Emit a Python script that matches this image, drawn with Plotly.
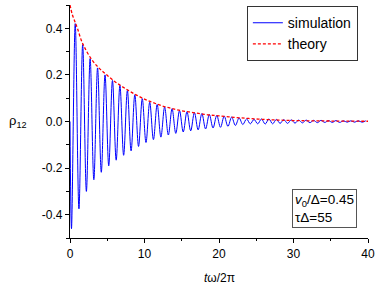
import numpy as np
import plotly.graph_objects as go

# --- data ---
# simulation: value at t=0, then successive extrema (every half period)
sim_start_t = 0.0
sim_start_v = 0.0
sim_first_ext_t = 0.2
sim_half_period = 0.5
sim_extrema = [
    -0.46, 0.42, -0.375, 0.33, -0.30, 0.27, -0.25, 0.23, -0.218, 0.20,
    -0.19, 0.176, -0.166, 0.155, -0.145, 0.133, -0.126, 0.115, -0.107, 0.098,
    -0.090, 0.083, -0.078, 0.073, -0.067, 0.062, -0.058, 0.055, -0.051, 0.047,
    -0.045, 0.042, -0.040, 0.038, -0.036, 0.034, -0.032, 0.030, -0.028, 0.026,
    -0.025, 0.023, -0.021, 0.019, -0.017, 0.015, -0.013, 0.011, -0.010, 0.009,
    -0.010, 0.011, -0.011, 0.011, -0.010, 0.009, -0.008, 0.008, -0.008, 0.007,
    -0.007, 0.006, -0.006, 0.006, -0.005, 0.005, -0.005, 0.005, -0.004, 0.004,
    -0.004, 0.004, -0.004, 0.003, -0.003, 0.003, -0.003, 0.003, -0.003, 0.003,
]

theory_t = [0, 0.3, 0.7, 1, 1.5, 2, 3, 4, 5, 6, 7, 8, 9, 10, 11, 12, 13, 14, 15,
            16, 17, 18, 19, 20, 22, 24, 26, 28, 30, 32, 35, 40]
theory_v = [0.5, 0.46, 0.425, 0.40, 0.35, 0.315, 0.262, 0.226, 0.198, 0.172,
            0.150, 0.130, 0.112, 0.096, 0.083, 0.071, 0.061, 0.053, 0.046,
            0.041, 0.036, 0.031, 0.027, 0.024, 0.018, 0.013, 0.009, 0.006,
            0.004, 0.003, 0.002, 0.001]

x_ticks = [0, 10, 20, 30, 40]
x_ticktext = ["0", "10", "20", "30", "40"]
y_ticks = [-0.4, -0.2, 0.0, 0.2, 0.4]
y_ticktext = ["-0.4", "-0.2", "0.0", "0.2", "0.4"]

sim_t = [sim_start_t] + [sim_first_ext_t + sim_half_period * k for k in range(len(sim_extrema))]
sim_v = [sim_start_v] + sim_extrema

FONT = "Arial, Liberation Sans, sans-serif"

fig = go.Figure()
fig.add_trace(go.Scatter(
    x=sim_t, y=sim_v, mode="lines", name="simulation",
    line=dict(color="#0000ff", width=1, shape="spline", smoothing=1.0),
))
fig.add_trace(go.Scatter(
    x=theory_t, y=theory_v, mode="lines", name="theory",
    line=dict(color="#ff0000", width=1.3, dash="3px,2px", shape="spline"),
))

axis_common = dict(showline=True, linecolor="black", linewidth=1.2, showgrid=False,
                   zeroline=False, tickcolor="black", tickfont=dict(family=FONT, size=12, color="black"))

fig.update_layout(
    width=380, height=300,
    margin=dict(l=70, r=12, t=5, b=62, autoexpand=False),
    paper_bgcolor="white", plot_bgcolor="white",
    font=dict(family=FONT, size=12, color="black"),
    xaxis=dict(range=[0, 40], tickvals=x_ticks, ticktext=x_ticktext, ticks="outside",
               ticklen=4, tickwidth=1,
               minor=dict(dtick=5, tick0=0, ticks="outside", ticklen=2, tickcolor="black"),
               **axis_common),
    yaxis=dict(range=[-0.5, 0.5], tickvals=y_ticks, ticktext=y_ticktext, ticks="outside",
               ticklen=4, tickwidth=1,
               minor=dict(dtick=0.1, tick0=0, ticks="outside", ticklen=3, tickcolor="black"),
               **axis_common),
    xaxis2=dict(range=[0, 40], overlaying="x", side="top", anchor="y", tickvals=x_ticks,
                showticklabels=False, ticks="inside", ticklen=4,
                minor=dict(dtick=5, tick0=0, ticks="inside", ticklen=3, tickcolor="black"),
                **axis_common),
    yaxis2=dict(range=[-0.5, 0.5], overlaying="y", side="right", anchor="x", tickvals=y_ticks,
                showticklabels=False, ticks="inside", ticklen=4,
                minor=dict(dtick=0.1, tick0=0, ticks="inside", ticklen=4, tickcolor="black"),
                **axis_common),
    showlegend=True,
    legend=dict(x=0.966, y=0.995, xanchor="right", yanchor="top",
                bgcolor="white", bordercolor="#333333", borderwidth=1,
                font=dict(family=FONT, size=14, color="black"),
                tracegroupgap=0, itemwidth=30),
    annotations=[
        dict(text="ρ<sub>12</sub>", xref="paper", yref="y", x=-0.175, y=0.0,
             xanchor="center", yanchor="middle", showarrow=False,
             font=dict(family=FONT, size=13)),
        dict(text="<i>t</i>ω/2π", xref="x", yref="paper", x=20, y=-0.17,
             xanchor="center", yanchor="middle", showarrow=False,
             font=dict(family=FONT, size=12)),
        dict(text="<i>v</i><sub>0</sub>/Δ=0.45<br>τΔ=55", xref="paper", yref="paper",
             x=0.963, y=0.043, xanchor="right", yanchor="bottom", align="left",
             showarrow=False, bordercolor="#555555", borderwidth=1, borderpad=2,
             bgcolor="white", font=dict(family=FONT, size=13.5)),
    ],
)

fig.write_html("out.html", config={"displayModeBar": False},
               post_script="document.body.style.margin='0';")
